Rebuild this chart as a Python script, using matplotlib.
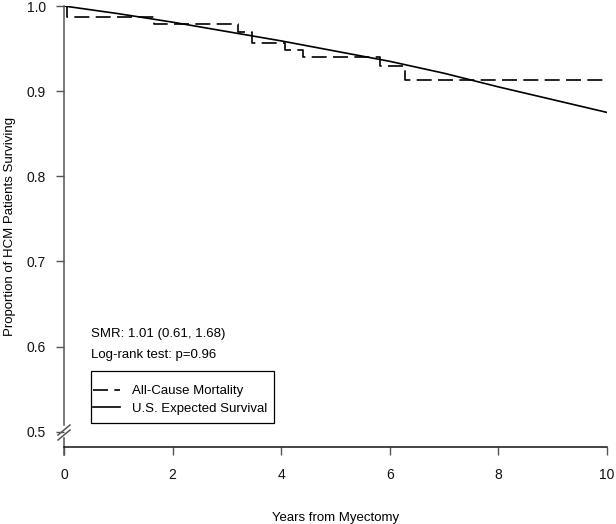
import numpy as np
import matplotlib
matplotlib.use("Agg")
import matplotlib.pyplot as plt
from matplotlib.patches import Rectangle

# Kaplan-Meier, all-cause mortality
km_time = [0, 0.05, 1.65, 3.2, 3.47, 4.07, 4.4, 5.82, 6.28, 10]
km_surv = [1.0, 0.987, 0.979, 0.970, 0.956, 0.948, 0.940, 0.929, 0.913, 0.913]

# U.S. expected survival
exp_time = [0, 1, 2, 3, 4, 5, 6, 7, 8, 9, 10]
exp_surv = [1.0, 0.991, 0.981, 0.970, 0.959, 0.947, 0.935, 0.921, 0.905, 0.890, 0.875]

x_ticks = [0, 2, 4, 6, 8, 10]
y_ticks = [0.5, 0.6, 0.7, 0.8, 0.9, 1.0]
stats_lines = ["SMR: 1.01 (0.61, 1.68)", "Log-rank test: p=0.96"]

plt.rcParams['font.family'] = ['Liberation Sans', 'DejaVu Sans']
FS = 9.5
SPINE_GREY = "#555555"

fig = plt.figure(figsize=(6.16, 5.24), dpi=100)
ax = fig.add_axes([64/616, 1 - 447/524, 543/616, 441/524])

# axes size in pixels, for placing things by hand
W, H = 543.0, 441.0
def px(dx, dy):
    # dx from left edge, dy from top of figure -> axes fraction
    return dx / W, (447 - dy) / H

ax.plot(km_time, km_surv, drawstyle='steps-post', color='black', lw=1.2,
        dashes=(9, 3.8), label='All-Cause Mortality')
ax.plot(exp_time, exp_surv, color='black', lw=1.2, label='U.S. Expected Survival')

ax.set_xlim(0, 10)
ax.set_ylim(0.482, 1.0)
ax.set_xticks(x_ticks)
ax.set_xticklabels([str(t) for t in x_ticks])
ax.set_yticks(y_ticks)
ax.set_yticklabels([f"{t:.1f}" for t in y_ticks])
ax.tick_params(axis='both', labelsize=10, length=6, width=1.0, color=SPINE_GREY, labelcolor='#111111')
ax.tick_params(axis='x', pad=9)
ax.tick_params(axis='y', pad=7)

for side in ['top', 'right', 'left']:
    ax.spines[side].set_visible(False)
ax.spines['bottom'].set_color('#111111')
ax.spines['bottom'].set_linewidth(1.1)

# left spine drawn by hand, with a break near the bottom
spine_kw = dict(transform=ax.transAxes, clip_on=False, color=SPINE_GREY, lw=1.1)
ax.plot([0, 0], [px(0, 425)[1], 1.0], **spine_kw)
ax.plot([0, 0], [px(0, 455)[1], px(0, 438)[1]], **spine_kw)
for off in (0, 5):
    x0, y0 = px(-6, 435 + off)
    x1, y1 = px(6, 425 + off)
    ax.plot([x0, x1], [y0, y1], **spine_kw)

ax.set_xlabel("Years from Myectomy", fontsize=FS, labelpad=22)
ax.set_ylabel("Proportion of HCM Patients Surviving", fontsize=FS, labelpad=8)

for line, ypx in zip(stats_lines, [334, 355]):
    ax.text(*px(27, ypx), line, transform=ax.transAxes,
            fontsize=FS, va='center', ha='left')

# legend box drawn separately (more vertical than horizontal padding)
bx, by = px(91 - 64, 423)
ax.add_patch(Rectangle((bx, by), 183 / W, 52 / H, transform=ax.transAxes,
                       fill=False, edgecolor='black', lw=0.9, clip_on=False))
ax.legend(loc='upper left', bbox_to_anchor=px(93 - 64, 385),
          fontsize=FS, frameon=False, handlelength=2.05, handletextpad=0.9,
          borderpad=0, labelspacing=0.4, borderaxespad=0)

fig.savefig("out.png", dpi=100)
